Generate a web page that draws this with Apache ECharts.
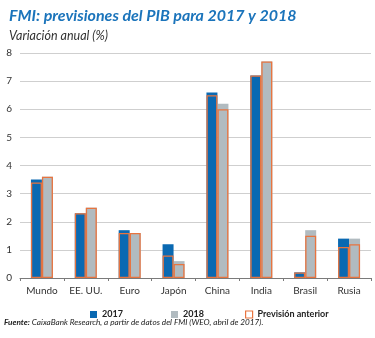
<!DOCTYPE html>
<html>
<head>
<meta charset="utf-8">
<script src="https://cdn.jsdelivr.net/npm/echarts@6/dist/echarts.min.js"></script>
<style>
  html, body { margin: 0; padding: 0; background: #ffffff; }
  #chart { width: 375px; height: 338px; }
</style>
</head>
<body>
<div id="chart"></div>
<script>
// Crecimiento del PIB (%), previsiones del FMI
const categories = ['Mundo', 'EE. UU.', 'Euro', 'Japón', 'China', 'India', 'Brasil', 'Rusia'];
const values2017 = [3.5, 2.3, 1.7, 1.2, 6.6, 7.2, 0.2, 1.4];
const values2018 = [3.6, 2.5, 1.6, 0.6, 6.2, 7.7, 1.7, 1.4];
const previous2017 = [3.4, 2.3, 1.6, 0.8, 6.5, 7.2, 0.2, 1.1];
const previous2018 = [3.6, 2.5, 1.6, 0.5, 6.0, 7.7, 1.5, 1.2];
const yTicks = [0, 1, 2, 3, 4, 5, 6, 7, 8];

const BLUE = '#0a69b2';
const GREY = '#b1bbc0';
const ORANGE = '#e8743f';
const FONT = 'Lato, "Open Sans", sans-serif';

const chart = echarts.init(document.getElementById('chart'), null, { renderer: 'canvas' });

const barW = 11;

chart.setOption({
  animation: false,
  backgroundColor: '#ffffff',
  title: [
    {
      text: 'FMI: previsiones del PIB para 2017 y 2018',
      left: 4, top: 3,
      textStyle: { fontFamily: FONT, fontSize: 16, fontWeight: 'bold', fontStyle: 'italic', color: '#1b74bb' }
    },
    {
      text: 'Variación anual (%)',
      left: 4, top: 24,
      textStyle: { fontFamily: FONT, fontSize: 12.5, fontWeight: 'normal', fontStyle: 'italic', color: '#333333' }
    }
  ],
  grid: { left: 20, right: 4, top: 53, bottom: 60, containLabel: false },
  legend: [
    {
      data: ['2017'], left: 85, top: 305, itemWidth: 7, itemHeight: 7, icon: 'rect',
      textStyle: { fontFamily: FONT, fontSize: 9, color: '#222', fontWeight: 'bold' }, selectedMode: false
    },
    {
      data: ['2018'], left: 166, top: 305, itemWidth: 7, itemHeight: 7, icon: 'rect',
      textStyle: { fontFamily: FONT, fontSize: 9, color: '#222', fontWeight: 'bold' }, selectedMode: false
    },
    {
      data: [{ name: 'Previsión anterior', itemStyle: { color: '#ffffff', borderColor: ORANGE, borderWidth: 1.2 } }],
      left: 240, top: 305, itemWidth: 7, itemHeight: 7, icon: 'rect',
      textStyle: { fontFamily: FONT, fontSize: 9, color: '#222', fontWeight: 'bold' }, selectedMode: false
    }
  ],
  xAxis: [
    {
      type: 'category',
      data: categories,
      axisLine: { lineStyle: { color: '#7a7a7a', width: 1 } },
      axisTick: { show: true, alignWithLabel: false, length: 3, lineStyle: { color: '#7a7a7a' } },
      axisLabel: { fontFamily: FONT, fontSize: 10, color: '#333', margin: 8 }
    },
    {
      type: 'category',
      data: categories,
      show: false
    }
  ],
  yAxis: {
    type: 'value',
    min: 0, max: 8, interval: 1,
    axisLine: { show: false },
    axisTick: { show: false },
    splitLine: { lineStyle: { color: '#cfcfcf', width: 1 } },
    axisLabel: {
      fontFamily: FONT, fontSize: 10, color: '#333', margin: 8,
      formatter: v => (yTicks.indexOf(v) >= 0 ? String(v) : '')
    }
  },
  series: [
    {
      name: '2017', type: 'bar', xAxisIndex: 0, data: values2017,
      barWidth: barW, barGap: '0%',
      itemStyle: { color: BLUE }
    },
    {
      name: '2018', type: 'bar', xAxisIndex: 0, data: values2018,
      barWidth: barW, barGap: '0%',
      itemStyle: { color: GREY }
    },
    {
      name: 'Previsión anterior', type: 'bar', xAxisIndex: 1, data: previous2017,
      barWidth: barW, barGap: '0%', z: 3,
      itemStyle: { color: 'transparent', borderColor: ORANGE, borderWidth: 1.3 }
    },
    {
      name: 'Previsión anterior', type: 'bar', xAxisIndex: 1, data: previous2018,
      barWidth: barW, barGap: '0%', z: 3,
      itemStyle: { color: 'transparent', borderColor: ORANGE, borderWidth: 1.3 }
    }
  ],
  graphic: [
    {
      type: 'text', left: 4, top: 318,
      style: {
        rich: {
          b: { fontFamily: FONT, fontSize: 8.2, fontWeight: 'bold', fontStyle: 'italic', fill: '#222' },
          n: { fontFamily: FONT, fontSize: 8.2, fontStyle: 'italic', fill: '#222' }
        },
        text: '{b|Fuente:}{n| CaixaBank Research, a partir de datos del FMI (WEO, abril de 2017).}'
      }
    }
  ]
});
</script>
</body>
</html>
